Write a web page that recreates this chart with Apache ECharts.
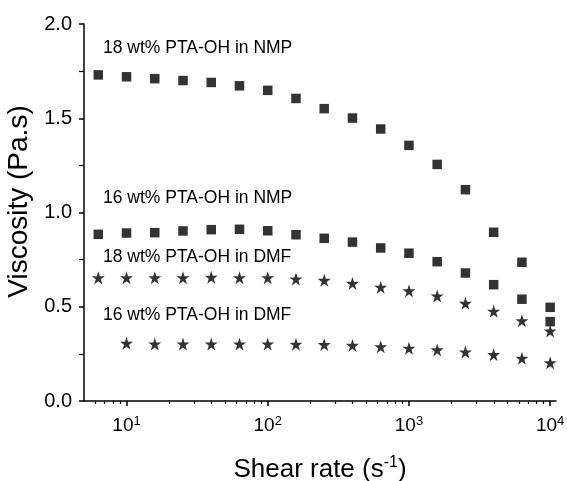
<!DOCTYPE html>
<html>
<head>
<meta charset="utf-8">
<script src="https://cdn.jsdelivr.net/npm/echarts@6/dist/echarts.min.js"></script>
<style>
  html, body { margin: 0; padding: 0; background: #fff; }
  #chart { width: 567px; height: 481px; }
</style>
</head>
<body>
<div id="chart"></div>
<script>
// Shear rate (s^-1) of each measurement point
const shearRate = [6.31, 10, 15.85, 25.12, 39.81, 63.1, 100, 158.5, 251.2, 398.1, 631, 1000, 1585, 2512, 3981, 6310, 10000];
// Viscosity (Pa.s)
const visc18NMP = [1.73, 1.72, 1.71, 1.70, 1.69, 1.672, 1.648, 1.605, 1.551, 1.501, 1.443, 1.356, 1.255, 1.121, 0.895, 0.736, 0.497];
const visc16NMP = [0.884, 0.891, 0.893, 0.902, 0.909, 0.911, 0.903, 0.882, 0.863, 0.843, 0.812, 0.784, 0.739, 0.679, 0.617, 0.540, 0.421];
const visc18DMF = [0.654, 0.654, 0.654, 0.654, 0.656, 0.654, 0.654, 0.647, 0.640, 0.624, 0.603, 0.584, 0.557, 0.518, 0.476, 0.426, 0.371];
const visc16DMF = [null, 0.306, 0.302, 0.302, 0.302, 0.302, 0.302, 0.301, 0.299, 0.295, 0.288, 0.280, 0.271, 0.260, 0.246, 0.227, 0.203];

const seriesNames = ['18 wt% PTA-OH in NMP', '16 wt% PTA-OH in NMP', '18 wt% PTA-OH in DMF', '16 wt% PTA-OH in DMF'];
const xMajorTicks = [10, 100, 1000, 10000];
const xMinorTicks = [6, 7, 8, 9, 20, 30, 40, 50, 60, 70, 80, 90, 200, 300, 400, 500, 600, 700, 800, 900, 2000, 3000, 4000, 5000, 6000, 7000, 8000, 9000];

const FONT = "'Liberation Sans', Arial, sans-serif";
const STAR = 'path://M50,0 L61.2,34.5 L97.6,34.5 L68.2,55.9 L79.4,90.5 L50,69.1 L20.6,90.5 L31.8,55.9 L2.4,34.5 L38.8,34.5 Z';

function pairs(arr) {
  const out = [];
  shearRate.forEach((x, i) => { if (arr[i] != null) out.push([x, arr[i]]); });
  return out;
}

const chart = echarts.init(document.getElementById('chart'), null, { renderer: 'canvas' });

const axisColor = '#000';
const textColor = '#000';

chart.setOption({
  backgroundColor: '#fff',
  animation: false,
  grid: { left: 84, right: 11, top: 24, bottom: 80, containLabel: false, outerBoundsMode: 'none' },
  xAxis: [
    {
      type: 'log',
      logBase: 10,
      min: 5,
      max: 11000,
      name: '{a|Shear rate (s}{s|-1}{a|)}',
      nameLocation: 'middle',
      nameGap: 54,
      nameTextStyle: {
        rich: {
          a: { fontFamily: FONT, fontSize: 26, color: textColor, lineHeight: 30 },
          s: { fontFamily: FONT, fontSize: 16, color: textColor, verticalAlign: 'top', lineHeight: 16 }
        }
      },
      axisLine: { show: true, onZero: false, lineStyle: { color: axisColor, width: 1.5 } },
      axisTick: { show: true, inside: false, length: 5, lineStyle: { color: axisColor, width: 1.5 }, customValues: xMajorTicks },
      axisLabel: {
        show: true,
        margin: 14,
        customValues: xMajorTicks,
        formatter: function (v) {
          const e = Math.round(Math.log10(v));
          return '{b|10}{s|' + e + '}';
        },
        rich: {
          b: { fontFamily: FONT, fontSize: 19, color: textColor, lineHeight: 22 },
          s: { fontFamily: FONT, fontSize: 13, color: textColor, verticalAlign: 'top', lineHeight: 12 }
        }
      },
      splitLine: { show: false },
      minorTick: { show: false },
      minorSplitLine: { show: false }
    },
    {
      type: 'log',
      logBase: 10,
      min: 5,
      max: 11000,
      position: 'bottom',
      axisLine: { show: false },
      axisTick: { show: true, inside: false, length: 3, lineStyle: { color: axisColor, width: 1.2 }, customValues: xMinorTicks },
      axisLabel: { show: false },
      splitLine: { show: false }
    }
  ],
  yAxis: {
    type: 'value',
    min: 0,
    max: 2,
    interval: 0.5,
    name: 'Viscosity (Pa.s)',
    nameLocation: 'middle',
    nameGap: 45,
    nameRotate: 90,
    nameTextStyle: { fontFamily: FONT, fontSize: 28, color: textColor, padding: [0, 0, 0, 22] },
    axisLine: { show: true, lineStyle: { color: axisColor, width: 1.5 } },
    axisTick: { show: true, inside: false, length: 5, lineStyle: { color: axisColor, width: 1.5 } },
    minorTick: { show: true, splitNumber: 2, length: 5, lineStyle: { color: axisColor, width: 1.2 } },
    axisLabel: {
      margin: 12,
      fontFamily: FONT,
      fontSize: 20,
      color: textColor,
      formatter: function (v) { return v.toFixed(1); }
    },
    splitLine: { show: false },
    minorSplitLine: { show: false }
  },
  series: [
    { name: seriesNames[0], type: 'scatter', data: pairs(visc18NMP), symbol: 'rect', symbolSize: 9.5, itemStyle: { color: '#000' } },
    { name: seriesNames[1], type: 'scatter', data: pairs(visc16NMP), symbol: 'rect', symbolSize: 9.5, itemStyle: { color: '#000' } },
    { name: seriesNames[2], type: 'scatter', data: pairs(visc18DMF), symbol: STAR, symbolSize: 13, itemStyle: { color: '#000' } },
    { name: seriesNames[3], type: 'scatter', data: pairs(visc16DMF), symbol: STAR, symbolSize: 13, itemStyle: { color: '#000' } }
  ],
  graphic: [
    { type: 'text', x: 103, y: 48, style: { text: seriesNames[0], font: '17.5px ' + FONT, fill: textColor, verticalAlign: 'middle' } },
    { type: 'text', x: 103, y: 198, style: { text: seriesNames[1], font: '17.5px ' + FONT, fill: textColor, verticalAlign: 'middle' } },
    { type: 'text', x: 103, y: 257, style: { text: seriesNames[2], font: '17.5px ' + FONT, fill: textColor, verticalAlign: 'middle' } },
    { type: 'text', x: 103, y: 315, style: { text: seriesNames[3], font: '17.5px ' + FONT, fill: textColor, verticalAlign: 'middle' } }
  ]
});
</script>
</body>
</html>
